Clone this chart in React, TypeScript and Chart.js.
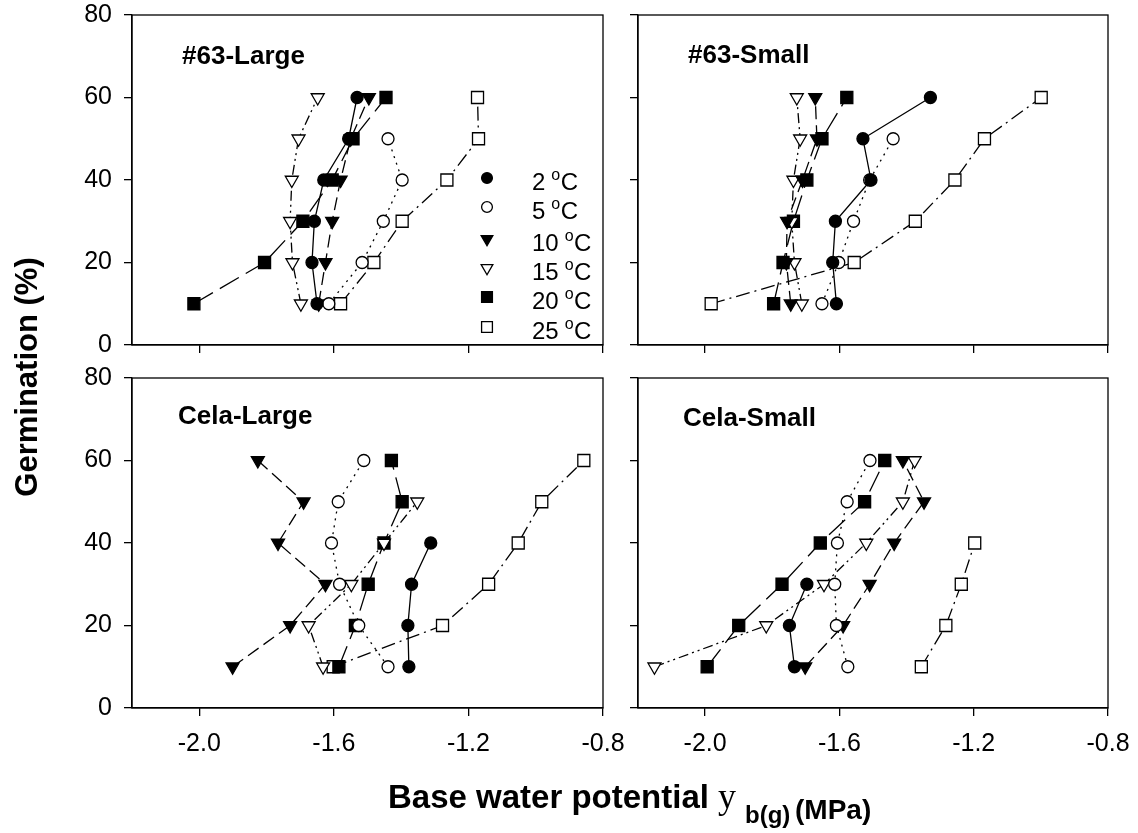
import React, { useEffect, useRef } from 'react';
import { Chart, registerables } from 'chart.js';

Chart.register(...registerables);

// ---------------- data ----------------
const germinationLevels = [10, 20, 30, 40, 50, 60];
const temperatureLabels = ['2', '5', '10', '15', '20', '25'];
const xTickValues = [-2.0, -1.6, -1.2, -0.8];
const yTickValues = [0, 20, 40, 60, 80];

// #63-Large : base water potential (MPa) at each germination level
const large63_2C = [-1.650, -1.665, -1.658, -1.630, -1.556, -1.531];
const large63_5C = [-1.615, -1.516, -1.453, -1.397, -1.439, null];
const large63_10C = [-1.645, -1.625, -1.605, -1.580, -1.550, -1.496];
const large63_15C = [-1.698, -1.723, -1.730, -1.725, -1.705, -1.648];
const large63_20C = [-2.016, -1.806, -1.692, -1.605, -1.543, -1.445];
const large63_25C = [-1.580, -1.481, -1.397, -1.264, -1.170, -1.173];

// #63-Small
const small63_2C = [-1.609, -1.620, -1.612, -1.506, -1.530, -1.329];
const small63_5C = [-1.652, -1.602, -1.558, -1.510, -1.440, null];
const small63_10C = [-1.745, -1.758, -1.756, -1.710, -1.667, -1.672];
const small63_15C = [-1.712, -1.734, -1.742, -1.737, -1.717, -1.727];
const small63_20C = [-1.796, -1.768, -1.737, -1.697, -1.652, -1.578];
const small63_25C = [-1.982, -1.556, -1.374, -1.256, -1.168, -0.999];

// Cela-Large
const celaLarge_2C = [-1.377, -1.380, -1.369, -1.312, null, null];
const celaLarge_5C = [-1.439, -1.526, -1.583, -1.607, -1.587, -1.511];
const celaLarge_10C = [-1.901, -1.730, -1.625, -1.766, -1.690, -1.826];
const celaLarge_15C = [-1.632, -1.675, -1.548, -1.451, -1.352, null];
const celaLarge_20C = [-1.585, -1.536, -1.498, -1.451, -1.397, -1.429];
const celaLarge_25C = [-1.602, -1.277, -1.140, -1.052, -0.982, -0.857];

// Cela-Small
const celaSmall_2C = [-1.734, -1.749, -1.697, null, null, null];
const celaSmall_5C = [-1.575, -1.609, -1.614, -1.606, -1.577, -1.509];
const celaSmall_10C = [-1.702, -1.589, -1.510, -1.437, -1.348, -1.411];
const celaSmall_15C = [-2.151, -1.818, -1.646, -1.520, -1.411, -1.376];
const celaSmall_20C = [-1.994, -1.900, -1.771, -1.657, -1.525, -1.465];
const celaSmall_25C = [-1.356, -1.283, -1.237, -1.197, null, null];

// ---------------- styles ----------------
const SANS = '"Liberation Sans", Arial, Helvetica, sans-serif';
const SERIF = '"Liberation Serif", "Times New Roman", serif';
const AXIS_W = 70;
const AXIS_H = 60;
const PAD_T = 40;
const PAD_R = 50;
const LINE_W = 1.3;

type Shape = 'circle' | 'triangle' | 'rect';
const seriesStyles: { shape: Shape; filled: boolean; dash: number[]; radius: number }[] = [
  { shape: 'circle', filled: true, dash: [], radius: 6 },
  { shape: 'circle', filled: false, dash: [2, 5], radius: 6 },
  { shape: 'triangle', filled: true, dash: [13, 6], radius: 7.5 },
  { shape: 'triangle', filled: false, dash: [10, 4, 2, 4, 2, 4], radius: 7.5 },
  { shape: 'rect', filled: true, dash: [22, 8], radius: 8.5 },
  { shape: 'rect', filled: false, dash: [14, 5, 2, 5], radius: 8.5 },
];

type PanelSpec = {
  title: string;
  series: (number | null)[][];
  L: number; T: number; R: number; B: number;
  showXLabels: boolean;
  showYLabels: boolean;
  legend: boolean;
  titleDx: number;
  titleDy: number;
};

const panels: PanelSpec[] = [
  { title: '#63-Large', series: [large63_2C, large63_5C, large63_10C, large63_15C, large63_20C, large63_25C],
    L: 132, T: 15, R: 603, B: 345, showXLabels: false, showYLabels: true, legend: true, titleDx: 50, titleDy: 49 },
  { title: '#63-Small', series: [small63_2C, small63_5C, small63_10C, small63_15C, small63_20C, small63_25C],
    L: 638, T: 15, R: 1108, B: 345, showXLabels: false, showYLabels: false, legend: false, titleDx: 50, titleDy: 48 },
  { title: 'Cela-Large', series: [celaLarge_2C, celaLarge_5C, celaLarge_10C, celaLarge_15C, celaLarge_20C, celaLarge_25C],
    L: 132, T: 378, R: 603, B: 708, showXLabels: true, showYLabels: true, legend: false, titleDx: 46, titleDy: 46 },
  { title: 'Cela-Small', series: [celaSmall_2C, celaSmall_5C, celaSmall_10C, celaSmall_15C, celaSmall_20C, celaSmall_25C],
    L: 638, T: 378, R: 1108, B: 708, showXLabels: true, showYLabels: false, legend: false, titleDx: 45, titleDy: 48 },
];

const legendRowsY = [163, 192, 224, 253, 282, 312];
const legendMarkerDx = 355;
const legendTextDx = 400;

function drawMarker(ctx: CanvasRenderingContext2D, shape: Shape, filled: boolean, x: number, y: number, r: number) {
  ctx.beginPath();
  if (shape === 'circle') {
    ctx.arc(x, y, r, 0, Math.PI * 2);
  } else if (shape === 'rect') {
    const s = r * Math.SQRT1_2;
    ctx.rect(x - s, y - s, 2 * s, 2 * s);
  } else {
    let rad = Math.PI;
    ctx.moveTo(x + Math.sin(rad) * r, y - Math.cos(rad) * r);
    rad += (2 * Math.PI) / 3;
    ctx.lineTo(x + Math.sin(rad) * r, y - Math.cos(rad) * r);
    rad += (2 * Math.PI) / 3;
    ctx.lineTo(x + Math.sin(rad) * r, y - Math.cos(rad) * r);
    ctx.closePath();
  }
  ctx.fillStyle = filled ? '#000' : '#fff';
  ctx.fill();
  ctx.strokeStyle = '#000';
  ctx.lineWidth = LINE_W;
  ctx.stroke();
}

function Panel({ spec }: { spec: PanelSpec }) {
  const ref = useRef<HTMLCanvasElement | null>(null);
  const w = spec.R - spec.L + AXIS_W + PAD_R;
  const h = spec.B - spec.T + PAD_T + AXIS_H;

  useEffect(() => {
    const canvas = ref.current;
    if (!canvas) return;

    const datasets = spec.series.map((vals, i) => {
      const st = seriesStyles[i];
      const pts = germinationLevels
        .map((g, k) => (vals[k] === null ? null : { x: vals[k] as number, y: g }))
        .filter((p) => p !== null);
      return {
        label: temperatureLabels[i] + ' °C',
        data: pts,
        showLine: true,
        borderColor: '#000',
        borderWidth: LINE_W,
        borderDash: st.dash,
        backgroundColor: st.filled ? '#000' : '#fff',
        pointBackgroundColor: st.filled ? '#000' : '#fff',
        pointBorderColor: '#000',
        pointBorderWidth: LINE_W,
        pointStyle: st.shape,
        pointRadius: st.radius,
        pointRotation: st.shape === 'triangle' ? 180 : 0,
        tension: 0,
        fill: false,
      };
    });

    const decor = {
      id: 'panelDecor',
      afterDraw(chart: any) {
        const ctx: CanvasRenderingContext2D = chart.ctx;
        const a = chart.chartArea;
        ctx.save();
        ctx.strokeStyle = '#000';
        ctx.lineWidth = LINE_W;
        ctx.strokeRect(a.left, a.top, a.right - a.left, a.bottom - a.top);
        ctx.fillStyle = '#000';
        ctx.textAlign = 'left';
        ctx.textBaseline = 'alphabetic';
        ctx.font = `bold 26px ${SANS}`;
        ctx.fillText(spec.title, a.left + spec.titleDx, a.top + spec.titleDy);
        if (spec.legend) {
          temperatureLabels.forEach((t, i) => {
            const st = seriesStyles[i];
            const my = a.top + legendRowsY[i];
            drawMarker(ctx, st.shape, st.filled, a.left + legendMarkerDx, my, st.radius * 0.9);
            ctx.fillStyle = '#000';
            let x = a.left + legendTextDx;
            const base = my + 12;
            ctx.font = `24px ${SANS}`;
            ctx.fillText(t, x, base);
            x += ctx.measureText(t).width + 6;
            ctx.font = `16px ${SANS}`;
            ctx.fillText('o', x, base - 10);
            x += ctx.measureText('o').width + 0.5;
            ctx.font = `24px ${SANS}`;
            ctx.fillText('C', x, base);
          });
        }
        ctx.restore();
      },
    };

    const chart = new Chart(canvas, {
      type: 'scatter',
      data: { datasets: datasets as any },
      options: {
        responsive: false,
        animation: false,
        devicePixelRatio: 1,
        events: [],
        layout: { padding: { top: PAD_T, right: PAD_R, left: 0, bottom: 0 } },
        plugins: {
          legend: { display: false },
          tooltip: { enabled: false },
          title: { display: false },
        },
        scales: {
          x: {
            type: 'linear',
            min: -2.2,
            max: -0.8,
            afterBuildTicks: (s: any) => {
              s.ticks = xTickValues.map((v) => ({ value: v }));
            },
            afterFit: (s: any) => {
              s.height = AXIS_H;
            },
            grid: { drawOnChartArea: false, drawTicks: true, tickLength: 8, color: '#000', lineWidth: LINE_W },
            border: { display: true, color: '#000', width: LINE_W },
            ticks: {
              display: spec.showXLabels,
              color: '#000',
              font: { family: SANS, size: 25 },
              padding: 13,
              maxRotation: 0,
              autoSkip: false,
              callback: (v: any) => Number(v).toFixed(1),
            },
          },
          y: {
            type: 'linear',
            min: 0,
            max: 80,
            afterBuildTicks: (s: any) => {
              s.ticks = yTickValues.map((v) => ({ value: v }));
            },
            afterFit: (s: any) => {
              s.width = AXIS_W;
            },
            grid: { drawOnChartArea: false, drawTicks: true, tickLength: 8, color: '#000', lineWidth: LINE_W },
            border: { display: true, color: '#000', width: LINE_W },
            ticks: {
              display: spec.showYLabels,
              color: '#000',
              font: { family: SANS, size: 25 },
              padding: 12,
              autoSkip: false,
              callback: (v: any) => String(v),
            },
          },
        },
      } as any,
      plugins: [decor],
    });
    return () => chart.destroy();
  }, []);

  return (
    <canvas
      ref={ref}
      width={w}
      height={h}
      style={{ position: 'absolute', left: spec.L - AXIS_W, top: spec.T - PAD_T, width: w, height: h }}
    />
  );
}

export default function App() {
  return (
    <div
      style={{
        position: 'fixed',
        left: 0,
        top: 0,
        width: 1138,
        height: 833,
        background: '#fff',
        overflow: 'hidden',
      }}
    >
      {panels.map((p) => (
        <Panel key={p.title} spec={p} />
      ))}
      <svg
        width={1138}
        height={833}
        style={{ position: 'absolute', left: 0, top: 0, pointerEvents: 'none' }}
      >
        <text
          transform="translate(37,377) rotate(-90)"
          textAnchor="middle"
          fontFamily={SANS}
          fontWeight="bold"
          fontSize={31}
          fill="#000"
        >
          Germination (%)
        </text>
        <text x={388} y={808} fontFamily={SANS} fontWeight="bold" fontSize={33} fill="#000">
          Base water potential
        </text>
        <text x={718} y={808} fontFamily={SERIF} fontSize={36} fill="#000">
          y
        </text>
        <text x={745} y={823} fontFamily={SANS} fontWeight="bold" fontSize={24} fill="#000">
          b(g)
        </text>
        <text x={795} y={819} fontFamily={SANS} fontWeight="bold" fontSize={28} fill="#000">
          (MPa)
        </text>
      </svg>
    </div>
  );
}
